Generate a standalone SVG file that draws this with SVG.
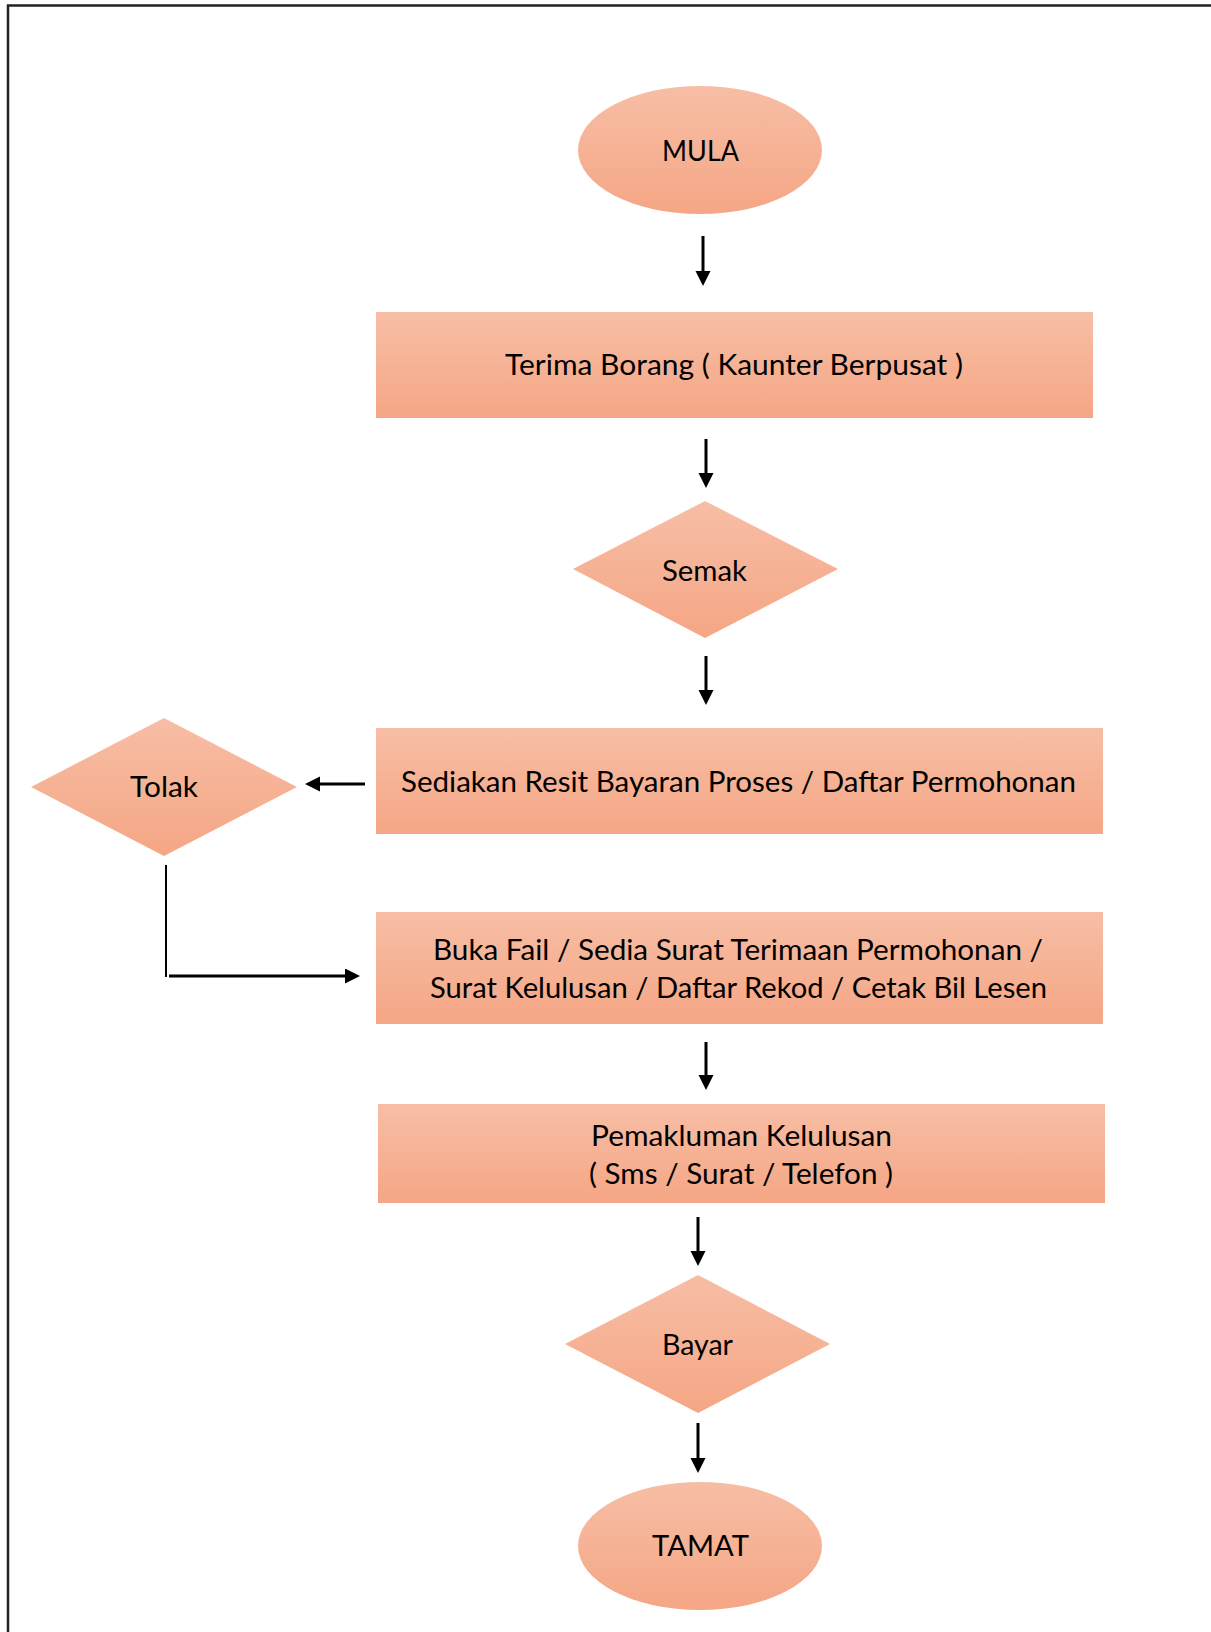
<svg xmlns="http://www.w3.org/2000/svg" width="1211" height="1632" viewBox="0 0 1211 1632">
<defs>
<linearGradient id="fill" x1="0" y1="0" x2="0" y2="1">
<stop offset="0" stop-color="#F7BEA5"/>
<stop offset="1" stop-color="#F5A685"/>
</linearGradient>
<marker id="ah" markerUnits="userSpaceOnUse" markerWidth="16" markerHeight="16" refX="5" refY="7.5" orient="auto">
<path d="M0,0 L15,7.5 L0,15 z" fill="#000"/>
</marker>
</defs>
<style>
.shape{fill:url(#fill);stroke:none}
.lbl{font-family:Lato,"Open Sans","Liberation Sans",sans-serif;font-size:29px;fill:#000}
.arr{stroke:#000;stroke-width:3;fill:none;marker-end:url(#ah)}
.ln{stroke:#000;stroke-width:2;fill:none}
.frame{stroke:#222;stroke-width:2.5;fill:none}
</style>
<rect width="1211" height="1632" fill="#fff"/>
<path class="frame" d="M8,1632 L8,5.5 L1211,5.5"/>

<g id="connectors">
<line class="arr" x1="703" y1="236" x2="703" y2="276"/>
<line class="arr" x1="706" y1="439" x2="706" y2="478"/>
<line class="arr" x1="706" y1="656" x2="706" y2="695"/>
<line class="arr" x1="365" y1="784" x2="315" y2="784"/>
<line class="arr" x1="706" y1="1042" x2="706" y2="1080"/>
<line class="ln" x1="166" y1="865" x2="166" y2="977"/>
<line class="arr" x1="169" y1="976" x2="350" y2="976"/>
<line class="arr" x1="698" y1="1217" x2="698" y2="1256"/>
<line class="arr" x1="698" y1="1423" x2="698" y2="1463"/>
</g>

<g id="mula">
<ellipse class="shape" cx="700" cy="150" rx="122" ry="64"/>
<text class="lbl" x="662" y="161" textLength="77" lengthAdjust="spacingAndGlyphs">MULA</text>
</g>

<g id="terima">
<rect class="shape" x="376" y="312" width="717" height="106"/>
<text class="lbl" x="505" y="375" textLength="458" lengthAdjust="spacingAndGlyphs">Terima Borang ( Kaunter Berpusat )</text>
</g>

<g id="semak">
<polygon class="shape" points="705,501 838,569 705,638 573,569"/>
<text class="lbl" x="662" y="581" textLength="85" lengthAdjust="spacingAndGlyphs">Semak</text>
</g>

<g id="sediakan">
<rect class="shape" x="376" y="728" width="727" height="106"/>
<text class="lbl" x="401" y="792" textLength="675" lengthAdjust="spacingAndGlyphs">Sediakan Resit Bayaran Proses / Daftar Permohonan</text>
</g>

<g id="tolak">
<polygon class="shape" points="164,718 297,787 164,856 31,787"/>
<text class="lbl" x="130" y="797" textLength="68" lengthAdjust="spacingAndGlyphs">Tolak</text>
</g>

<g id="buka">
<rect class="shape" x="376" y="912" width="727" height="112"/>
<text class="lbl" x="433" y="960" textLength="610" lengthAdjust="spacingAndGlyphs">Buka Fail / Sedia Surat Terimaan Permohonan /</text>
<text class="lbl" x="430" y="998" textLength="617" lengthAdjust="spacingAndGlyphs">Surat Kelulusan / Daftar Rekod / Cetak Bil Lesen</text>
</g>

<g id="pemakluman">
<rect class="shape" x="378" y="1104" width="727" height="99"/>
<text class="lbl" x="591" y="1146" textLength="301" lengthAdjust="spacingAndGlyphs">Pemakluman Kelulusan</text>
<text class="lbl" x="589" y="1184" textLength="304" lengthAdjust="spacingAndGlyphs">( Sms / Surat / Telefon )</text>
</g>

<g id="bayar">
<polygon class="shape" points="698,1275 830,1344 698,1413 565,1344"/>
<text class="lbl" x="662" y="1355" textLength="71" lengthAdjust="spacingAndGlyphs">Bayar</text>
</g>

<g id="tamat">
<ellipse class="shape" cx="700" cy="1546" rx="122" ry="64"/>
<text class="lbl" x="652" y="1556" textLength="97" lengthAdjust="spacingAndGlyphs">TAMAT</text>
</g>
</svg>
